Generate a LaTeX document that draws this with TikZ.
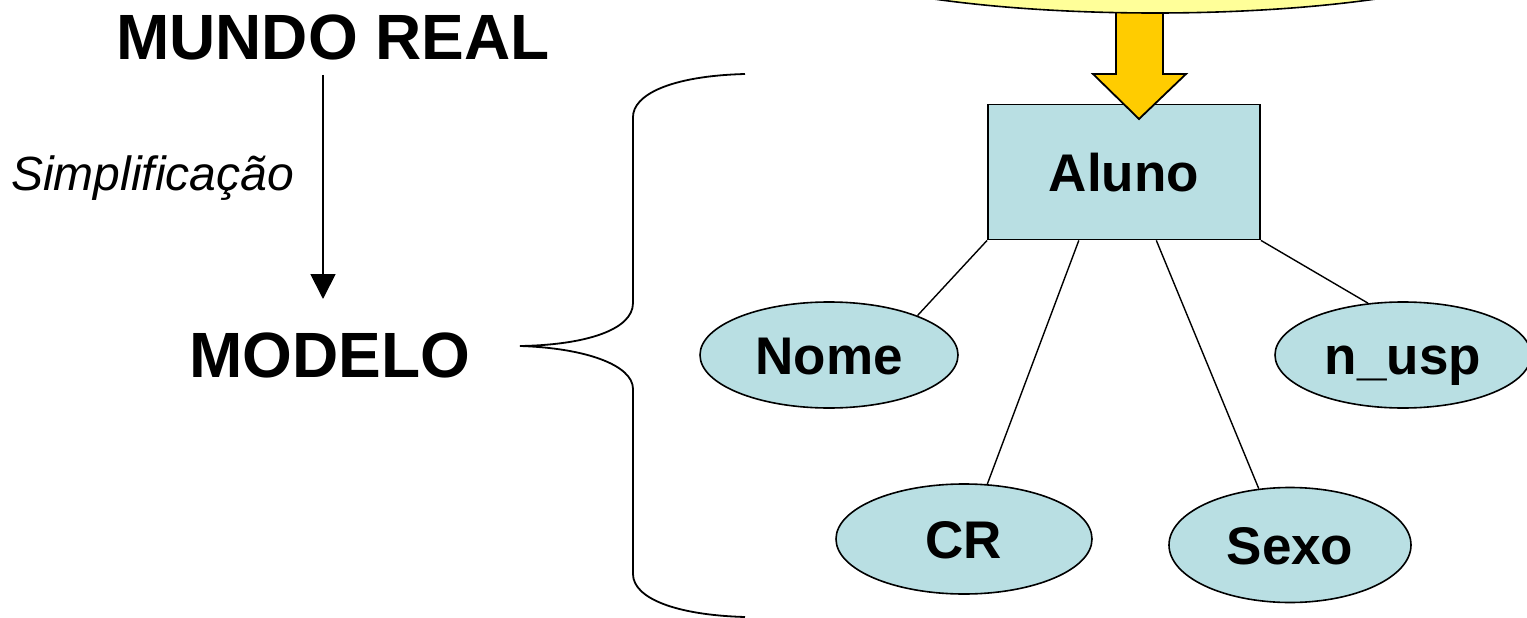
\documentclass[tikz,border=0pt]{standalone}
\usepackage{fontspec}
\setmainfont{Liberation Sans}
\usetikzlibrary{arrows.meta,shapes.geometric,calc}
\definecolor{entfill}{RGB}{185,223,227}
\definecolor{ideafill}{RGB}{255,255,153}
\definecolor{blockarrow}{RGB}{255,204,0}
\tikzset{
  entity/.style={draw=black, line width=1.8pt, fill=entfill, rectangle, inner sep=0pt,
    font=\fontsize{53}{60}\selectfont\bfseries, text height=38pt, text depth=0pt},
  attr/.style={draw=black, line width=1.6pt, fill=entfill, ellipse, inner sep=0pt,
    font=\fontsize{53}{60}\selectfont\bfseries, text height=38pt, text depth=0pt},
  title/.style={font=\fontsize{64}{70}\selectfont\bfseries, inner sep=0pt, anchor=base},
  link/.style={line width=1.4pt, draw=black},
}
\begin{document}
\begin{tikzpicture}[x=1pt,y=-1pt]
  \useasboundingbox (0,0) rectangle (1527,618);
  \clip (0,0) rectangle (1527,618);

  % left column
  \node[title] (mundo) at (333,60) {MUNDO REAL};
  \node[title] (modelo) at (329.5,377) {MODELO};
  \node[font=\fontsize{48}{52}\selectfont\itshape, inner sep=0pt, anchor=base west]
    (simp) at (11,190) {Simplificação};
  \coordinate (arrtop) at (323,75);
  \coordinate (arrbot) at (323,299);
  \draw[line width=1.8pt, -{Triangle[width=25pt,length=25pt]}] (arrtop) -- (arrbot);

  % brace
  \draw[line width=1.8pt]
    (745,74) .. controls (670,76) and (633,95) .. (633,117)
    -- (633,303)
    .. controls (633,330) and (585,345) .. (520,346)
    .. controls (585,348) and (633,365) .. (633,389)
    -- (633,574)
    .. controls (633,598) and (675,615) .. (745,617);

  % entity and attributes
  \node[entity, minimum width=272pt, minimum height=135pt] (aluno) at (1124,172) {Aluno};
  \node[attr, minimum width=258pt, minimum height=106pt] (nome) at (829,355) {Nome};
  \node[attr, minimum width=256pt, minimum height=106pt] (nusp) at (1403,355) {n\_usp};
  \node[attr, minimum width=256pt, minimum height=110pt] (cr) at (964,539) {CR};
  \node[attr, minimum width=242pt, minimum height=115pt] (sexo) at (1290,545) {Sexo};

  \draw[link] (aluno.south west) -- (nome.24);
  \draw[link] ($(aluno.south west)!0.335!(aluno.south east)$) -- (cr.67);
  \draw[link] ($(aluno.south west)!0.618!(aluno.south east)$) -- (sexo.119);
  \draw[link] (aluno.south east) -- (nusp.124);

  % block arrow from the idea above
  \draw[line width=1.8pt, fill=blockarrow, line join=miter]
    (1116,5) -- (1163,5) -- (1163,74) -- (1186,74) -- (1139,119)
    -- (1093,74) -- (1116,74) -- cycle;
  \node[draw=black, line width=1.6pt, fill=ideafill, ellipse, inner sep=0pt,
    minimum width=760pt, minimum height=150pt] (idea) at (1155,-62) {};
\end{tikzpicture}
\end{document}
